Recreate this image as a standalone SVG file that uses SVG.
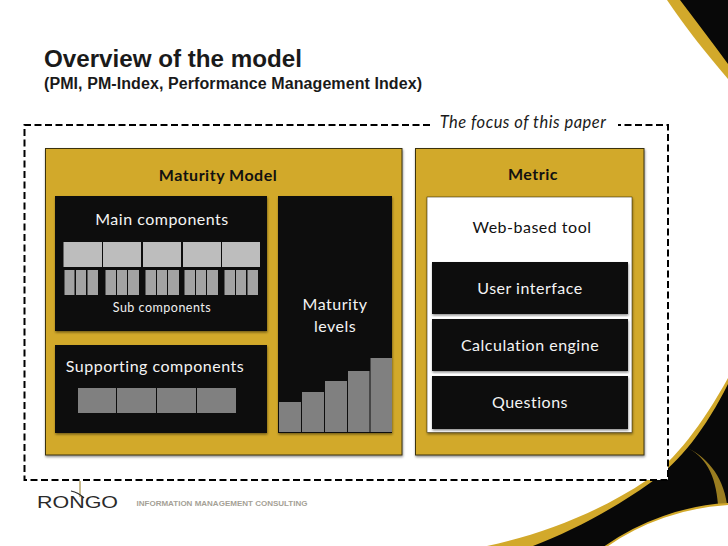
<svg xmlns="http://www.w3.org/2000/svg" width="728" height="546" viewBox="0 0 728 546">
<defs>
<filter id="sh" x="-5%" y="-5%" width="110%" height="110%"><feDropShadow dx="0.5" dy="1.5" stdDeviation="1" flood-color="#000" flood-opacity="0.45"/></filter>
</defs>
<style>
.c{font-family:Lato,"Open Sans","DejaVu Sans",sans-serif;}
.w{fill:#f4f4f4;font-size:16px;text-anchor:middle;letter-spacing:.5px}
.k{fill:#111;font-size:16px;text-anchor:middle;letter-spacing:.5px}
.b{fill:#111;font-size:16px;font-weight:700;text-anchor:middle;letter-spacing:.5px}
.panel{fill:#d2a92b;stroke:#3a3010;stroke-width:1;filter:url(#sh)}
.dark{fill:#0d0d0d;filter:url(#sh)}
.m{fill:#bdbdbd}.s{fill:#a3a3a3}.g{fill:#808080}
.d{fill:none;stroke:#000;stroke-width:2;stroke-dasharray:7 3.500}
</style>
<rect width="728" height="546" fill="#fff"/>
<g id="swoosh">
<path d="M667 0H728V79C706 53 685 27 667 0Z" fill="#d2a92b"/>
<path d="M680 0H728V64C712 42 695 20 680 0Z" fill="#080808"/>
<path d="M487 546C540 535 600 512 647 480C675 460 702 425 728 378V546Z" fill="#d2a92b"/>
<path d="M533 546C570 532 612 510 650 483C680 462 706 428 728 384V546Z" fill="#080808"/>
<path d="M685 447C705 455 716 475 718 505L727 504C723 475 705 455 685 447Z" fill="#9a7d20"/>
<path d="M605 547C640 522 685 506 729 504V547Z" fill="#fff" stroke="#d2a92b" stroke-width="2"/>
</g>
<g id="focus-box">
<rect x="24.500" y="125" width="643.500" height="355" fill="#fff"/>
<path class="d" d="M430 125H24.500V480H668V125H618"/>
<text class="c" x="523" y="128" font-size="16.500" font-style="italic" text-anchor="middle" fill="#1a1a1a" letter-spacing=".5">The focus of this paper</text>
</g>
<g id="title">
<text x="44" y="67" font-family="Liberation Sans,Arial,sans-serif" font-size="24.200" font-weight="700" fill="#1a1a1a" textLength="258">Overview of the model</text>
<text x="44" y="89" font-family="Liberation Sans,Arial,sans-serif" font-size="16" font-weight="700" fill="#1a1a1a" textLength="378">(PMI, PM-Index, Performance Management Index)</text>
</g>
<g id="maturity-model">
<rect class="panel" x="45.500" y="148.500" width="356.500" height="306.500"/>
<text class="c b" x="218" y="181">Maturity Model</text>
</g>
<g id="main-components">
<rect class="dark" x="55" y="196" width="212" height="135"/>
<text class="c w" x="162" y="225">Main components</text>
<g class="m"><rect x="63.500" y="242" width="38.500" height="25"/><rect x="103" y="242" width="38" height="25"/><rect x="143" y="242" width="38" height="25"/><rect x="183" y="242" width="38" height="25"/><rect x="222" y="242" width="38" height="25"/></g>
<g class="s"><rect x="64.500" y="270" width="10" height="25"/><rect x="76" y="270" width="10" height="25"/><rect x="87.500" y="270" width="10.500" height="25"/><rect x="105.500" y="270" width="10.500" height="25"/><rect x="117" y="270" width="10" height="25"/><rect x="128" y="270" width="11" height="25"/><rect x="145.500" y="270" width="10.500" height="25"/><rect x="157" y="270" width="10" height="25"/><rect x="168" y="270" width="11" height="25"/><rect x="184.500" y="270" width="10.500" height="25"/><rect x="196" y="270" width="10" height="25"/><rect x="207" y="270" width="11" height="25"/><rect x="224.500" y="270" width="10.500" height="25"/><rect x="236" y="270" width="10" height="25"/><rect x="247.500" y="270" width="10.500" height="25"/></g>
<text class="c" x="162" y="312" font-size="12.500" fill="#f0f0f0" text-anchor="middle" letter-spacing=".5">Sub components</text>
</g>
<g id="supporting-components">
<rect class="dark" x="55" y="345" width="212" height="88"/>
<text class="c w" x="155" y="372">Supporting components</text>
<g class="g"><rect x="78" y="388" width="38" height="25"/><rect x="117" y="388" width="39" height="25"/><rect x="157" y="388" width="39" height="25"/><rect x="197" y="388" width="39" height="25"/></g>
</g>
<g id="maturity-levels">
<rect class="dark" x="278" y="196" width="114" height="237"/>
<text class="c w" x="335" y="310">Maturity</text>
<text class="c w" x="335" y="332">levels</text>
<g class="g"><rect x="279" y="402" width="22" height="30"/><rect x="302" y="392" width="22" height="40"/><rect x="325" y="381" width="22" height="51"/><rect x="348" y="371" width="21.500" height="61"/><rect x="370.500" y="358" width="21.500" height="74"/></g>
</g>
<g id="metric">
<rect class="panel" x="415.500" y="148.500" width="228.500" height="306.500"/>
<text class="c b" x="533" y="180">Metric</text>
</g>
<g id="web-tool">
<rect x="427" y="197" width="205" height="235.500" fill="#fff" stroke="#3a3010" stroke-width=".6" filter="url(#sh)"/>
<text class="c k" x="532" y="233">Web-based tool</text>
</g>
<g id="user-interface"><rect class="dark" x="432" y="262" width="196" height="52"/><text class="c w" x="530" y="294">User interface</text></g>
<g id="calculation-engine"><rect class="dark" x="432" y="319" width="196" height="52"/><text class="c w" x="530" y="351">Calculation engine</text></g>
<g id="questions"><rect class="dark" x="432" y="376" width="196" height="53"/><text class="c w" x="530" y="408">Questions</text></g>
<g id="logo">
<text x="37" y="508" font-family="Liberation Sans,Arial,sans-serif" font-size="16.500" fill="#2a2a2a" textLength="81" lengthAdjust="spacingAndGlyphs">RONGO</text>
<path d="M80 481V497" fill="none" stroke="#b9a66a" stroke-width="1.500"/>
<path d="M71 491C76 492 80 494 84 498" fill="none" stroke="#2a2a2a" stroke-width="1.200"/>
<text x="136.500" y="505.500" font-family="Liberation Sans,Arial,sans-serif" font-size="8" font-weight="700" fill="#a5a196" textLength="171" lengthAdjust="spacingAndGlyphs">INFORMATION MANAGEMENT CONSULTING</text>
</g>
</svg>
